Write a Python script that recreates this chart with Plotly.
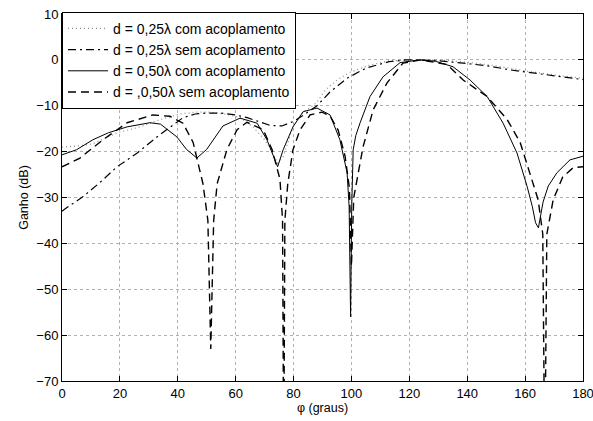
import plotly.graph_objects as go

# d = 0,25λ com acoplamento (dotted gray)
phi_a = [0, 5, 10.7, 19, 27, 34, 40.8, 46, 51, 57, 61.5, 66, 70, 72.5, 74.5, 76.5, 79.8, 83.3, 86, 88, 91,
         95, 99.5, 106, 113, 120, 125, 132, 140, 150, 160, 170, 180]
gain_a = [-19, -18.8, -18.3, -15.9, -14.6, -13, -11.8, -11.4, -11.4, -11.9, -12.6, -14.6, -17.4, -20, -22.5, -21,
          -14.6, -11.3, -10.3, -9.3, -6.5, -4.4, -2.7, -1.2, -0.2, 0, 0, -0.1, -0.5, -1.3, -2.4, -3.3, -4.0]

# d = 0,25λ sem acoplamento (dash-dot)
phi_b = [0, 1, 7.3, 13, 19, 26, 32.8, 37.3, 41.8, 46, 50, 55, 60, 64, 67, 72, 76, 80, 84, 88.1, 92.6, 98.5,
         105, 113, 119, 125, 128, 138.6, 147, 155, 161.7, 169.7, 178, 180]
gain_b = [-33, -32.5, -29.8, -26.8, -23.3, -20.3, -16.8, -14.6, -12.6, -11.8, -11.6, -11.6, -12.0, -12.6, -13.3,
          -14.3, -14.4, -13.4, -11.8, -10, -7, -4, -1.8, -0.4, 0, 0, -0.1, -0.7, -1.3, -2.2, -2.8, -3.5, -4.1, -4.3]

# d = 0,50λ com acoplamento (solid)
phi_c = [0, 5, 10.7, 16, 22.5, 30.4, 34, 39.7, 43, 46.6, 50, 55.6, 61.5, 67.4, 70.8, 73, 74.5, 76.4, 79.8,
         83.3, 88.1, 92.6, 96, 98.5, 99.2, 99.7, 100.1, 100.6, 101.5, 103, 106.4, 110.9, 116.8, 123.7, 129,
         135.1, 141, 146.9, 152.4, 157.2, 160.7, 162.5, 163.6, 164.6, 166.2, 168, 171, 175.5, 180]
gain_c = [-20.7, -19.6, -17.4, -15.9, -14.6, -13.7, -14.0, -16.8, -19.5, -21.4, -19.5, -14.4, -12.7, -13.8,
          -17.4, -21, -23.3, -19.6, -14.6, -11.3, -10.5, -12, -17.4, -24.6, -32, -56, -32, -19.6, -16.5,
          -13.7, -8, -3.7, -0.6, 0, -0.3, -1.5, -4.4, -8, -13.8, -20.3, -27.6, -32, -35.5, -36.6, -31,
          -27.5, -24.6, -21.8, -21]

# d = ,0,50λ sem acoplamento (dashed)
phi_d = [0, 6.2, 14.2, 22.5, 31.4, 37.3, 41.8, 45.3, 48.7, 50.4, 51.4, 52.4, 53.6, 57, 60.5, 63.9, 69.5,
         72.6, 75.3, 76.2, 76.6, 77.0, 78, 79.8, 82.2, 85.7, 89.8, 92.6, 95.4, 97.8, 99.3, 100.0, 100.8,
         101.9, 104, 107.5, 112.3, 117.8, 124, 133, 138.6, 146.9, 153.8, 158.3, 161.7, 164.5, 166.1, 166.8,
         167.5, 169.7, 173, 176.6, 180]
gain_d = [-23.3, -21.4, -17.4, -13.7, -12.0, -12.3, -13.8, -18, -27, -35, -63, -35, -27, -19.5, -15.2, -13.6,
          -15.2, -19.6, -26, -35, -90, -35, -27, -19.6, -15.3, -12, -11.4, -12.2, -15.3, -21, -28, -45, -30,
          -26, -19, -10.9, -5, -0.7, 0, -1, -4.4, -8, -13, -18, -24.6, -30.5, -38, -90, -38, -30.5, -25.5,
          -23.5, -23.3]

x_ticks = [0, 20, 40, 60, 80, 100, 120, 140, 160, 180]
y_ticks = [-70, -60, -50, -40, -30, -20, -10, 0, 10]

names = ["d = 0,25λ com acoplamento", "d = 0,25λ sem acoplamento",
         "d = 0,50λ com acoplamento", "d = ,0,50λ sem acoplamento"]

fig = go.Figure()
fig.add_trace(go.Scatter(x=phi_a, y=gain_a, mode="lines", name=names[0],
                         line=dict(color="#8a8a8a", width=1.2, dash="1px,3px")))
fig.add_trace(go.Scatter(x=phi_b, y=gain_b, mode="lines", name=names[1],
                         line=dict(color="black", width=1.2, dash="8px,4px,2px,4px")))
fig.add_trace(go.Scatter(x=phi_c, y=gain_c, mode="lines", name=names[2],
                         line=dict(color="black", width=1)))
fig.add_trace(go.Scatter(x=phi_d, y=gain_d, mode="lines", name=names[3],
                         line=dict(color="black", width=1.4, dash="8px,5px")))

axis_common = dict(showline=True, linecolor="black", linewidth=1, mirror="allticks",
                   ticks="inside", ticklen=5, tickcolor="black", automargin=False,
                   ticklabeloverflow="allow",
                   showgrid=True, gridcolor="#b0b0b0", griddash="dot", gridwidth=1,
                   zeroline=False, tickfont=dict(size=13, color="black"))

fig.update_layout(
    width=593, height=421,
    margin=dict(l=62, r=10, t=14, b=40),
    paper_bgcolor="white", plot_bgcolor="white",
    font=dict(family="Liberation Sans, Arial, sans-serif", size=12, color="black"),
    showlegend=True,
    legend=dict(x=0, y=1.006, xanchor="left", yanchor="top", bgcolor="white",
                bordercolor="black", borderwidth=1, font=dict(size=14),
                itemwidth=40, tracegroupgap=0),
    xaxis=dict(range=[0, 180], tickvals=x_ticks,
               title=dict(text="φ (graus)", standoff=2, font=dict(size=12.5)), **axis_common),
    yaxis=dict(range=[-70, 10], tickvals=y_ticks,
               title=dict(text="Ganho (dB)", standoff=4, font=dict(size=12.5)), **axis_common),
)

fig.write_html("out.html", config={"displayModeBar": False},
               post_script="document.body.style.margin='0px';")
